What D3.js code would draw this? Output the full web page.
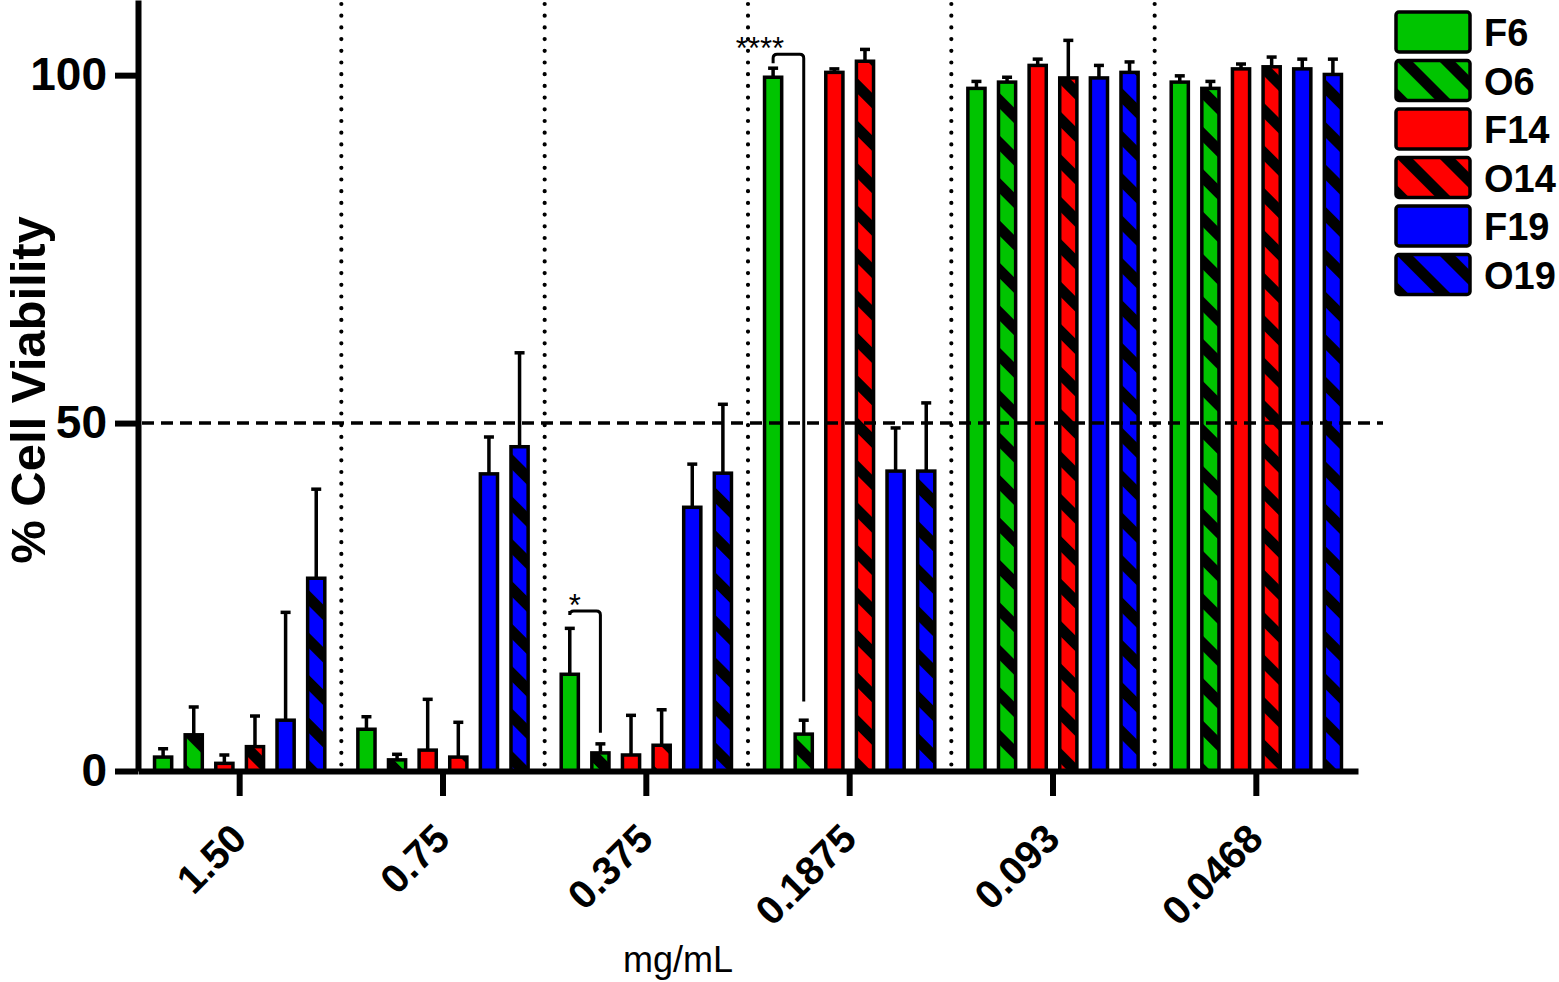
<!DOCTYPE html>
<html>
<head>
<meta charset="utf-8">
<script src="https://cdn.jsdelivr.net/npm/d3@7"></script>
<style>
  body { margin: 0; background: #fff; }
  svg { display: block; font-family: "Liberation Sans", Arial, sans-serif; }
</style>
</head>
<body>
<svg id="chart" width="1559" height="982"></svg>
<script>
// concentrations (x categories) and series
var concentrations = ["1.50", "0.75", "0.375", "0.1875", "0.093", "0.0468"];
var seriesNames = ["F6", "O6", "F14", "O14", "F19", "O19"];
var seriesColors = ["#00c400", "#00c400", "#ff0000", "#ff0000", "#0000ff", "#0000ff"];
var seriesHatched = [false, true, false, true, false, true];

// mean % viability per series, one value per concentration
var F6  = [2.0, 6.0, 13.9, 99.7, 98.1, 99.0];
var O6  = [5.2, 1.6, 2.6, 5.3, 99.0, 98.1];
var F14 = [1.1, 3.0, 2.3, 100.4, 101.4, 100.9];
var O14 = [3.5, 2.0, 3.7, 102.0, 99.6, 101.2];
var F19 = [7.3, 42.7, 37.9, 43.1, 99.6, 100.9];
var O19 = [27.7, 46.6, 42.8, 43.1, 100.4, 100.1];

// error (SD) per series
var F6sd  = [1.2, 1.8, 6.6, 1.3, 1.0, 0.9];
var O6sd  = [4.0, 0.8, 1.3, 2.0, 0.7, 1.0];
var F14sd = [1.2, 7.3, 5.7, 0.5, 0.9, 0.7];
var O14sd = [4.4, 5.0, 5.1, 1.7, 5.4, 1.4];
var F19sd = [15.5, 5.3, 6.2, 6.2, 1.8, 1.4];
var O19sd = [12.8, 13.5, 9.9, 9.8, 1.5, 2.2];

var yTicks = [0, 50, 100];
var threshold = 50;

// significance brackets: concentration, label, bracket level, ends
var sigGroups = ["0.375", "0.1875"];
var sigLabels = ["*", "****"];
var sigLevel = [23.0, 103.0];
var sigLeftEnd = [23.0, 101.7];
var sigRightEnd = [5.5, 10.0];

var means = [F6, O6, F14, O14, F19, O19];
var sds = [F6sd, O6sd, F14sd, O14sd, F19sd, O19sd];

var svg = d3.select("#chart");
var left = 138, right = 1358, bottom = 771;

var x0 = d3.scaleBand().domain(concentrations).range([left, right]);
var x1 = d3.scaleBand().domain(seriesNames).range([0, x0.bandwidth()])
  .paddingInner(0.44).paddingOuter(0.54);
var y = d3.scaleLinear().domain([0, 110.8]).range([bottom, 0]);

// hatch patterns
var defs = svg.append("defs");
seriesNames.forEach(function (s, i) {
  if (!seriesHatched[i]) return;
  var p = defs.append("pattern")
    .attr("id", "hatch-" + s)
    .attr("patternUnits", "userSpaceOnUse")
    .attr("width", 30)
    .attr("height", 30)
    .attr("patternTransform", "rotate(-45)");
  p.append("rect").attr("width", 30).attr("height", 30).attr("fill", seriesColors[i]);
  p.append("rect").attr("x", 0).attr("width", 11).attr("height", 30).attr("fill", "#000");
});

function fillFor(i) {
  return seriesHatched[i] ? "url(#hatch-" + seriesNames[i] + ")" : seriesColors[i];
}

// dotted separators between concentrations
svg.append("g")
  .selectAll("line")
  .data(concentrations.slice(1))
  .join("line")
  .attr("x1", function (d) { return x0(d); })
  .attr("x2", function (d) { return x0(d); })
  .attr("y1", y(110.8) + 4)
  .attr("y2", bottom - 4)
  .attr("stroke", "#000")
  .attr("stroke-width", 4.2)
  .attr("stroke-linecap", "round")
  .attr("stroke-dasharray", "0,11.7");

// bars
var rows = [];
concentrations.forEach(function (c, gi) {
  seriesNames.forEach(function (s, si) {
    rows.push({ c: c, s: s, si: si, v: means[si][gi], sd: sds[si][gi] });
  });
});

// error bars (drawn first so the bar outline sits on top)
var eb = svg.append("g").attr("stroke", "#000").attr("stroke-width", 3.5);
eb.selectAll("line.v")
  .data(rows)
  .join("line")
  .attr("class", "v")
  .attr("x1", function (d) { return x0(d.c) + x1(d.s) + x1.bandwidth() / 2; })
  .attr("x2", function (d) { return x0(d.c) + x1(d.s) + x1.bandwidth() / 2; })
  .attr("y1", function (d) { return y(d.v); })
  .attr("y2", function (d) { return y(d.v + d.sd); });
eb.selectAll("line.cap")
  .data(rows)
  .join("line")
  .attr("class", "cap")
  .attr("x1", function (d) { return x0(d.c) + x1(d.s) + x1.bandwidth() / 2 - 5; })
  .attr("x2", function (d) { return x0(d.c) + x1(d.s) + x1.bandwidth() / 2 + 5; })
  .attr("y1", function (d) { return y(d.v + d.sd); })
  .attr("y2", function (d) { return y(d.v + d.sd); });

svg.append("g")
  .selectAll("rect")
  .data(rows)
  .join("rect")
  .attr("x", function (d) { return x0(d.c) + x1(d.s); })
  .attr("width", x1.bandwidth())
  .attr("y", function (d) { return y(d.v); })
  .attr("height", function (d) { return y(0) - y(d.v); })
  .attr("fill", function (d) { return fillFor(d.si); })
  .attr("stroke", "#000")
  .attr("stroke-width", 3.5);

// 50% threshold
svg.append("line")
  .attr("x1", left + 4)
  .attr("x2", 1383)
  .attr("y1", y(threshold))
  .attr("y2", y(threshold))
  .attr("stroke", "#000")
  .attr("stroke-width", 3.5)
  .attr("stroke-dasharray", "12,7");

// significance brackets
var barCenter = function (c, s) { return x0(c) + x1(s) + x1.bandwidth() / 2; };
var sig = svg.append("g");
sigGroups.forEach(function (c, i) {
  var xa = barCenter(c, "F6"), xb = barCenter(c, "O6");
  var r = 4;
  var path = d3.path();
  path.moveTo(xa, y(sigLeftEnd[i]));
  path.lineTo(xa, y(sigLevel[i]) + r);
  path.quadraticCurveTo(xa, y(sigLevel[i]), xa + r, y(sigLevel[i]));
  path.lineTo(xb - r, y(sigLevel[i]));
  path.quadraticCurveTo(xb, y(sigLevel[i]), xb, y(sigLevel[i]) + r);
  path.lineTo(xb, y(sigRightEnd[i]));
  sig.append("path")
    .attr("d", path.toString())
    .attr("fill", "none")
    .attr("stroke", "#000")
    .attr("stroke-width", 3);
  sig.append("text")
    .attr("x", xa + 11)
    .attr("y", y(sigLevel[i]) + 5)
    .attr("text-anchor", "end")
    .attr("font-size", 31)
    .text(sigLabels[i]);
});

// axes
var yAxis = svg.append("g")
  .attr("transform", "translate(" + left + ",0)")
  .call(d3.axisLeft(y).tickValues(yTicks).tickSize(23).tickSizeOuter(0).tickPadding(8));
yAxis.select(".domain").attr("stroke-width", 6);
yAxis.selectAll(".tick line").attr("stroke-width", 6);
yAxis.selectAll(".tick text")
  .attr("font-size", 46)
  .attr("font-weight", "bold")
  .attr("font-family", "Liberation Sans, Arial, sans-serif")
  .attr("fill", "#000");

var xAxis = svg.append("g")
  .attr("transform", "translate(0," + bottom + ")")
  .call(d3.axisBottom(x0).tickSize(25).tickSizeOuter(0));
xAxis.select(".domain").attr("stroke-width", 6);
xAxis.selectAll(".tick line").attr("stroke-width", 6);
xAxis.selectAll(".tick text")
  .attr("y", 0)
  .attr("dy", 0)
  .attr("transform", "translate(9,70) rotate(-45)")
  .attr("text-anchor", "end")
  .attr("font-size", 40)
  .attr("font-weight", "bold")
  .attr("font-family", "Liberation Sans, Arial, sans-serif")
  .attr("fill", "#000");

// axis titles
svg.append("text")
  .attr("transform", "translate(45,390) rotate(-90)")
  .attr("text-anchor", "middle")
  .attr("font-size", 49)
  .attr("font-weight", "bold")
  .text("% Cell Viability");

svg.append("text")
  .attr("x", 678)
  .attr("y", 972)
  .attr("text-anchor", "middle")
  .attr("font-size", 36)
  .text("mg/mL");

// legend
var legend = svg.append("g")
  .selectAll("g")
  .data(seriesNames)
  .join("g")
  .attr("transform", function (d, i) { return "translate(1396," + (12 + i * 48.5) + ")"; });
legend.append("rect")
  .attr("width", 74)
  .attr("height", 40)
  .attr("rx", 3)
  .attr("fill", function (d, i) { return fillFor(i); })
  .attr("stroke", "#000")
  .attr("stroke-width", 3.5);
legend.append("text")
  .attr("x", 88)
  .attr("y", 34)
  .attr("font-size", 38)
  .attr("font-weight", "bold")
  .text(function (d) { return d; });
</script>
</body>
</html>
